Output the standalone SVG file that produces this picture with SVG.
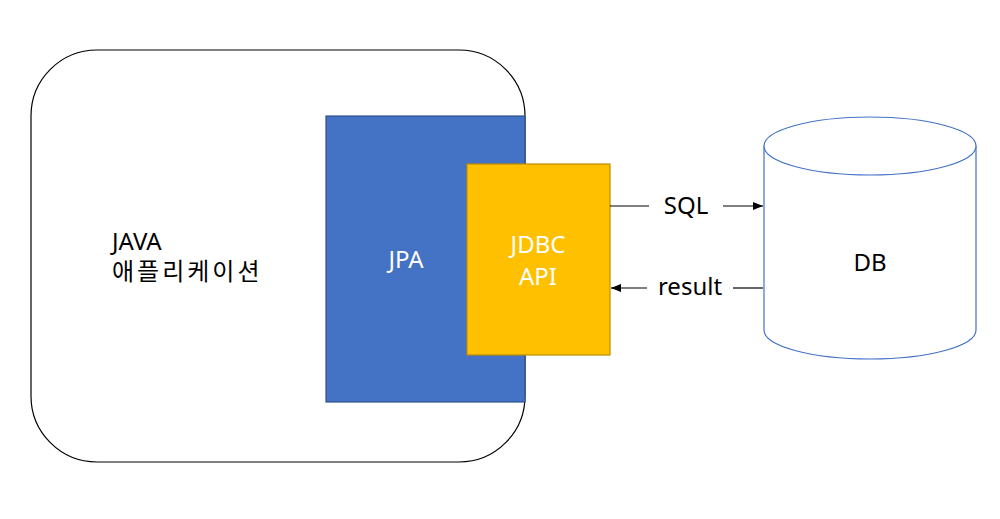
<svg xmlns="http://www.w3.org/2000/svg" width="1000" height="519" viewBox="0 0 1000 519">
<defs>
<style>
text{font-family:"Noto Sans","Noto Sans CJK KR",sans-serif;font-size:24px;fill:#000}
.w{fill:#fff}
.ko{letter-spacing:3px}
.ln{stroke:#000;stroke-width:1.2;fill:none}
</style>
<marker id="ah" viewBox="0 0 10 10" refX="10" refY="5" markerWidth="10" markerHeight="10" markerUnits="userSpaceOnUse" orient="auto"><path d="M0,1 L10,5 L0,9 Z" fill="#000"/></marker>
</defs>
<rect width="1000" height="519" fill="#fff"/>
<g id="app">
<rect x="31" y="50" width="494" height="412" rx="66" ry="66" fill="#fff" stroke="#000" stroke-width="1.2"/>
<text x="112" y="250">JAVA</text>
<text class="ko" x="112" y="280">애플리케이션</text>
</g>
<g id="jpa">
<rect x="326" y="116" width="199" height="286" fill="#4472C4" stroke="#2F528F" stroke-width="1.2"/>
<text class="w" x="406" y="268" text-anchor="middle">JPA</text>
</g>
<g id="jdbc">
<rect x="467" y="164" width="143" height="191" fill="#FFC000" stroke="#BC8C00" stroke-width="1.2"/>
<text class="w" x="538" y="253" text-anchor="middle">JDBC</text>
<text class="w" x="538" y="285" text-anchor="middle">API</text>
</g>
<g id="db">
<path d="M764,146 L764,330 A106,29 0 0 0 976,330 L976,146" fill="#fff" stroke="#4472C4" stroke-width="1.2"/>
<ellipse cx="870" cy="146" rx="106" ry="29" fill="#fff" stroke="#4472C4" stroke-width="1.2"/>
<text x="870" y="271" text-anchor="middle">DB</text>
</g>
<g id="connectors">
<line class="ln" x1="610" y1="206" x2="649" y2="206"/>
<line class="ln" x1="723" y1="206" x2="763" y2="206" marker-end="url(#ah)"/>
<text x="686" y="214" text-anchor="middle">SQL</text>
<line class="ln" x1="647" y1="288" x2="611" y2="288" marker-end="url(#ah)"/>
<line class="ln" x1="733" y1="288" x2="763" y2="288"/>
<text x="690" y="295" text-anchor="middle">result</text>
</g>
</svg>
